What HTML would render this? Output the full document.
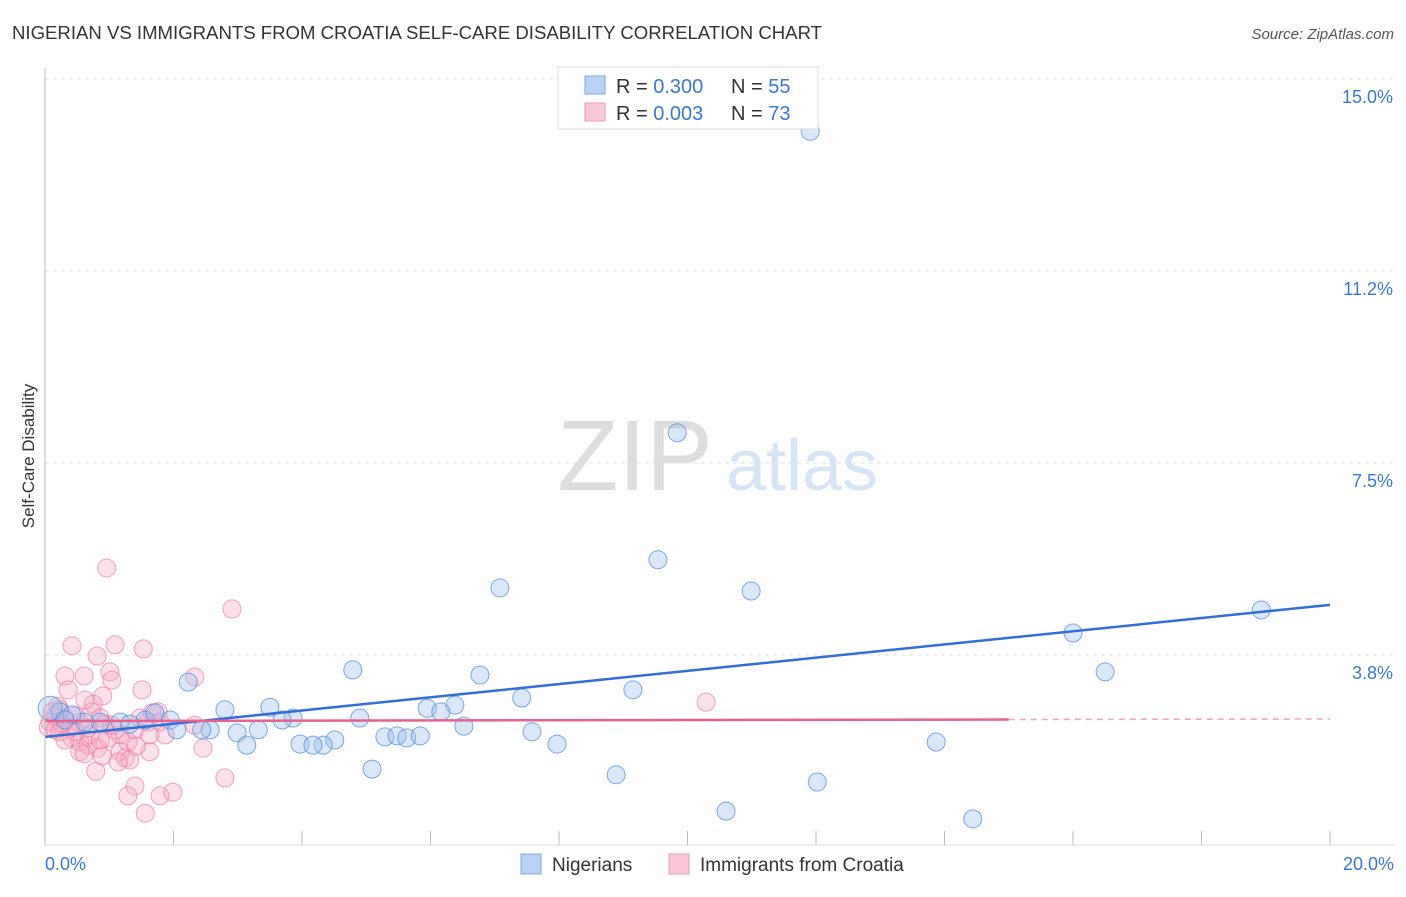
<!DOCTYPE html>
<html><head><meta charset="utf-8"><style>
body{margin:0;background:#fff;font-family:"Liberation Sans",sans-serif}
svg text{font-family:"Liberation Sans",sans-serif}
</style></head><body>
<svg id="chart" width="1406" height="892" viewBox="0 0 1406 892" xmlns="http://www.w3.org/2000/svg">
<text x="12" y="39" font-size="18" fill="#333" textLength="810" lengthAdjust="spacingAndGlyphs">NIGERIAN VS IMMIGRANTS FROM CROATIA SELF-CARE DISABILITY CORRELATION CHART</text>
<text x="1394" y="39" font-size="15" fill="#555" text-anchor="end" font-style="italic">Source: ZipAtlas.com</text>
<g id="grid"></g>
<g>
<text x="635" y="490" font-family="Liberation Serif,serif" font-size="100" fill="#ddd" text-anchor="middle">ZIP</text>
<text x="802" y="490" font-size="72" fill="#d6e4f5" text-anchor="middle">atlas</text>
</g>
<g id="pinkpts"></g>
<g id="bluepts"></g>
<g id="lines"></g>
<g id="axes"></g>
<text transform="translate(34,456) rotate(-90)" font-size="17" fill="#333" text-anchor="middle">Self-Care Disability</text>
<g>
<rect x="558" y="67" width="260" height="62" fill="#fff" stroke="#ddd"/>
<rect x="585" y="76" width="20" height="18" fill="#b9d3f5" stroke="#7fa9e0"/>
<rect x="585" y="103" width="20" height="18" fill="#f9c8d6" stroke="#ee9ab4"/>
<text x="616" y="93" font-size="20" fill="#333">R = <tspan fill="#3a78d0">0.300</tspan></text>
<text x="731" y="93" font-size="20" fill="#333">N = <tspan fill="#3a78d0">55</tspan></text>
<text x="616" y="120" font-size="20" fill="#333">R = <tspan fill="#3a78d0">0.003</tspan></text>
<text x="731" y="120" font-size="20" fill="#333">N = <tspan fill="#3a78d0">73</tspan></text>
</g>
<g>
<rect x="521" y="854" width="20" height="20" fill="#b9d3f5" stroke="#7fa9e0"/>
<text x="552" y="871" font-size="19" fill="#333">Nigerians</text>
<rect x="669" y="854" width="20" height="20" fill="#f9c8d6" stroke="#ee9ab4"/>
<text x="700" y="871" font-size="19" fill="#333">Immigrants from Croatia</text>
</g>
</svg>
<script>
const yTicks=[15,11.25,7.5,3.75];
const yTickLabels=["15.0%","11.2%","7.5%","3.8%"];
const xTickLabels=["0.0%","20.0%"];
const blueX=[11.91,9.84,9.54,7.08,10.99,18.93,16.00,16.50,4.79,6.77,2.23,9.15,7.42,6.38,5.95,6.16,3.50,2.80,4.90,3.86,3.69,1.95,1.56,1.17,0.86,0.23,0.08,2.05,2.57,2.99,3.32,2.44,6.52,7.58,5.29,5.48,5.63,5.84,4.51,4.33,3.97,4.17,3.14,7.97,13.87,5.09,8.89,12.02,10.60,14.44,0.62,0.42,1.71,1.32,0.31];
const blueY=[13.98,8.09,5.61,5.06,5.00,4.63,4.18,3.42,3.46,3.36,3.22,3.07,2.91,2.77,2.71,2.64,2.73,2.68,2.52,2.52,2.48,2.48,2.48,2.44,2.44,2.64,2.71,2.29,2.29,2.23,2.29,2.29,2.36,2.25,2.15,2.17,2.13,2.17,2.09,1.99,2.01,1.99,1.99,2.01,2.05,1.52,1.41,1.27,0.70,0.55,2.44,2.58,2.62,2.40,2.48];
const pinkX=[0.96,2.91,0.42,1.09,1.53,0.81,0.31,1.01,0.61,1.04,1.51,2.33,0.90,0.36,0.75,1.67,10.29,0.23,0.16,0.08,0.05,0.16,0.31,0.47,0.54,0.67,0.73,0.86,0.93,1.09,1.17,1.29,1.40,1.48,1.60,1.76,1.79,1.87,0.42,0.54,0.67,0.82,0.54,0.89,0.61,1.17,1.25,1.32,1.14,0.79,1.63,2.46,2.80,1.40,1.29,1.79,1.99,1.56,0.26,0.39,0.11,0.20,0.70,0.98,1.42,1.63,2.33,0.62,0.86,1.04,0.23,0.47,0.31];
const pinkY=[5.45,4.65,3.93,3.95,3.87,3.73,3.34,3.42,3.34,3.26,3.07,3.32,2.95,3.07,2.79,2.62,2.83,2.68,2.56,2.44,2.34,2.29,2.52,2.56,2.44,2.32,2.64,2.52,2.40,2.29,2.19,2.05,2.29,2.52,2.44,2.64,2.44,2.19,2.13,2.05,1.99,1.93,1.86,1.78,1.82,1.86,1.74,1.70,1.66,1.48,1.86,1.93,1.35,1.19,1.00,1.00,1.07,0.66,2.40,2.32,2.64,2.75,2.19,2.13,1.97,2.19,2.38,2.87,2.09,2.38,2.25,2.25,2.09];
const blueTrend=[2.15,4.73];
const pinkTrend=[2.46,2.50];
const NS="http://www.w3.org/2000/svg";
const X0=45,X1=1330,Y0=847;
const xs=v=>X0+(v/20)*(X1-X0);
const ys=v=>Y0-(v/3.75)*192;
function mk(tag,attrs,parent){const e=document.createElementNS(NS,tag);for(const k in attrs)e.setAttribute(k,attrs[k]);parent.appendChild(e);return e;}
const grid=document.getElementById('grid'),axes=document.getElementById('axes');
yTicks.forEach((t,i)=>{
  const l=mk('line',{x1:45,x2:1395,y1:ys(t),y2:ys(t),stroke:'#ddd','stroke-dasharray':'4,4'},grid);
  
  
  const tx=mk('text',{x:1393,y:ys(t)+24,'font-size':18,fill:'#3a78d0','text-anchor':'end'},axes);
  tx.textContent=yTickLabels[i];
  
  
});
let a=mk('line',{x1:45,x2:45,y1:68,y2:845,stroke:'#bbb'},axes);


a=mk('line',{x1:45,x2:1395,y1:845,y2:845,stroke:'#ddd'},axes);


for(let i=0;i<=10;i++){
  const t=mk('line',{x1:xs(i*2),x2:xs(i*2),y1:831,y2:845,stroke:'#bbb'},axes);
  
  
}
[[0,'start',45],[20,'end',1394]].forEach((d,i)=>{
  const t=mk('text',{x:d[2],y:870,'font-size':18,fill:'#3a78d0','text-anchor':d[1]},axes);
  t.textContent=xTickLabels[i];
  
  
});
const pg=document.getElementById('pinkpts');
pinkX.forEach((x,i)=>{
  const c=mk('circle',{cx:xs(x),cy:ys(pinkY[i]),r:9,fill:'rgba(246,170,195,0.35)',stroke:'rgba(236,120,160,0.7)','stroke-width':1},pg);
  
  
});
const bg=document.getElementById('bluepts');
blueX.forEach((x,i)=>{
  const c=mk('circle',{cx:xs(x),cy:ys(blueY[i]),r:(i==26?12:9),fill:'rgba(160,196,240,0.4)',stroke:'rgba(80,140,220,0.75)','stroke-width':1},bg);
  
  
});
const lg=document.getElementById('lines');
let L=mk('line',{x1:xs(0),y1:ys(blueTrend[0]),x2:xs(20),y2:ys(blueTrend[1]),stroke:'#2f6fd6','stroke-width':2.5},lg);


const pm=pinkTrend[0]+(pinkTrend[1]-pinkTrend[0])*0.75;
L=mk('line',{x1:xs(0),y1:ys(pinkTrend[0]),x2:xs(15),y2:ys(pm),stroke:'#e8608c','stroke-width':2.5},lg);


L=mk('line',{x1:xs(15),y1:ys(pm),x2:xs(20),y2:ys(pinkTrend[1]),stroke:'#f0a0ba','stroke-width':1.5,'stroke-dasharray':'6,5'},lg);


</script>
</body></html>
